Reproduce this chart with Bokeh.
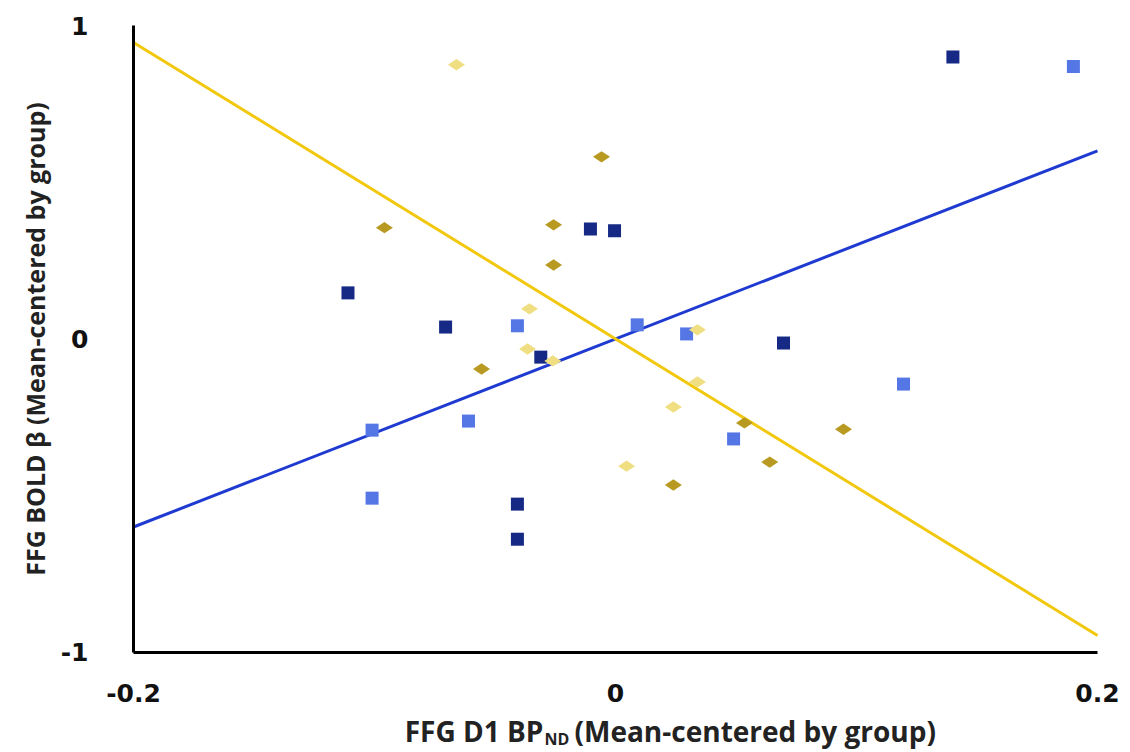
from bokeh.plotting import figure
from bokeh.models import Range1d, Label, FixedTicker
from bokeh.embed import file_html
from bokeh.resources import INLINE

# Data
navy_x = [0.140, -0.0104, -0.0004, -0.111, -0.0705, -0.031, 0.0697, -0.0407, -0.0407]
navy_y = [0.900, 0.351, 0.345, 0.147, 0.038, -0.058, -0.013, -0.527, -0.639]

lblue_x = [0.190, -0.0407, 0.009, 0.0295, -0.101, -0.061, 0.1195, 0.049, -0.101]
lblue_y = [0.869, 0.042, 0.045, 0.016, -0.291, -0.262, -0.144, -0.319, -0.508]

gold_x = [-0.0058, -0.0959, -0.0257, -0.0257, -0.0556, 0.0535, 0.0946, 0.064, 0.024]
gold_y = [0.581, 0.355, 0.364, 0.236, -0.096, -0.268, -0.288, -0.393, -0.466]

lyellow_x = [-0.066, -0.0357, -0.0365, -0.026, 0.034, 0.034, 0.024, 0.0046]
lyellow_y = [0.875, 0.096, -0.032, -0.070, 0.029, -0.137, -0.217, -0.406]

fit_x = [-0.2, 0.2]
blue_slope = 3.0
yellow_slope = -4.73

x_ticks = [-0.2, 0, 0.2]
y_ticks = [-1, 0, 1]

W, H = 1124, 750
PX_X, PX_Y = 2410.0, 313.0          # pixels per data unit
LEFT, RIGHT, TOP, BOTTOM = 133, 27, 25, 98   # space around the axes box
# the frame covers the whole canvas; axes are pinned at x=-0.2 / y=-1
p = figure(width=W, height=H, output_backend="svg", toolbar_location=None,
           x_range=Range1d(-0.2 - LEFT / PX_X, 0.2 + RIGHT / PX_X),
           y_range=Range1d(-1 - BOTTOM / PX_Y, 1 + TOP / PX_Y),
           min_border_left=0, min_border_right=0, min_border_top=0, min_border_bottom=0)
p.outline_line_color = None
p.grid.visible = False
p.background_fill_color = "white"
p.border_fill_color = "white"

p.line(fit_x, [blue_slope * v for v in fit_x], line_color="#1f3ad0", line_width=3)
p.line(fit_x, [yellow_slope * v for v in fit_x], line_color="#f2c80f", line_width=3)

p.scatter(navy_x, navy_y, marker="square", size=13, fill_color="#162a85", line_color=None)
p.scatter(lblue_x, lblue_y, marker="square", size=13, fill_color="#5577e6", line_color=None)
p.scatter(gold_x, gold_y, marker="diamond", angle=1.5708, size=17, fill_color="#b89a22", line_color=None)
p.scatter(lyellow_x, lyellow_y, marker="diamond", angle=1.5708, size=17, fill_color="#f0df82", line_color=None)

for ax in (p.xaxis[0], p.yaxis[0]):
    ax.axis_line_color = "black"
    ax.axis_line_width = 3
    ax.major_tick_line_color = None
    ax.minor_tick_line_color = None
    ax.major_label_text_font = "DejaVu Sans"
    ax.major_label_text_font_style = "bold"
    ax.major_label_text_font_size = "25px"
    ax.major_label_text_color = "#111111"

p.xaxis.fixed_location = -1
p.yaxis.fixed_location = -0.2
p.xaxis.bounds = (-0.2, 0.2)
p.yaxis.bounds = (-1, 1)
p.xaxis.ticker = FixedTicker(ticks=x_ticks)
p.yaxis.ticker = FixedTicker(ticks=y_ticks)
p.xaxis.major_label_overrides = {-0.2: "-0.2", 0: "0", 0.2: "0.2"}
p.yaxis.major_label_overrides = {-1: "-1", 0: "0", 1: "1"}
p.xaxis.major_label_standoff = 26
p.yaxis.major_label_standoff = 39

p.yaxis.axis_label = "FFG BOLD \u03b2 (Mean-centered by group)"
p.yaxis.axis_label_text_font = "Open Sans"
p.yaxis.axis_label_text_font_style = "bold"
p.yaxis.axis_label_text_font_size = "25px"
p.yaxis.axis_label_standoff = 6
p.yaxis.axis_label_text_color = "#222222"

font = "Open Sans"
common = dict(text_baseline="middle", text_font=font, text_font_style="bold",
              text_color="#222222")
l1 = Label(x=-0.0299, y=-1.2524, text="FFG D1 BP", text_align="right", text_font_size="28px", **common)
l2 = Label(x=-0.0295, y=-1.2780, text="ND", text_align="left", text_font_size="16px", **common)
l3 = Label(x=-0.0170, y=-1.2524, text="(Mean-centered by group)", text_align="left", text_font_size="28px", **common)
for l in (l1, l2, l3):
    p.add_layout(l)

open("out.html", "w").write(file_html(p, INLINE))
